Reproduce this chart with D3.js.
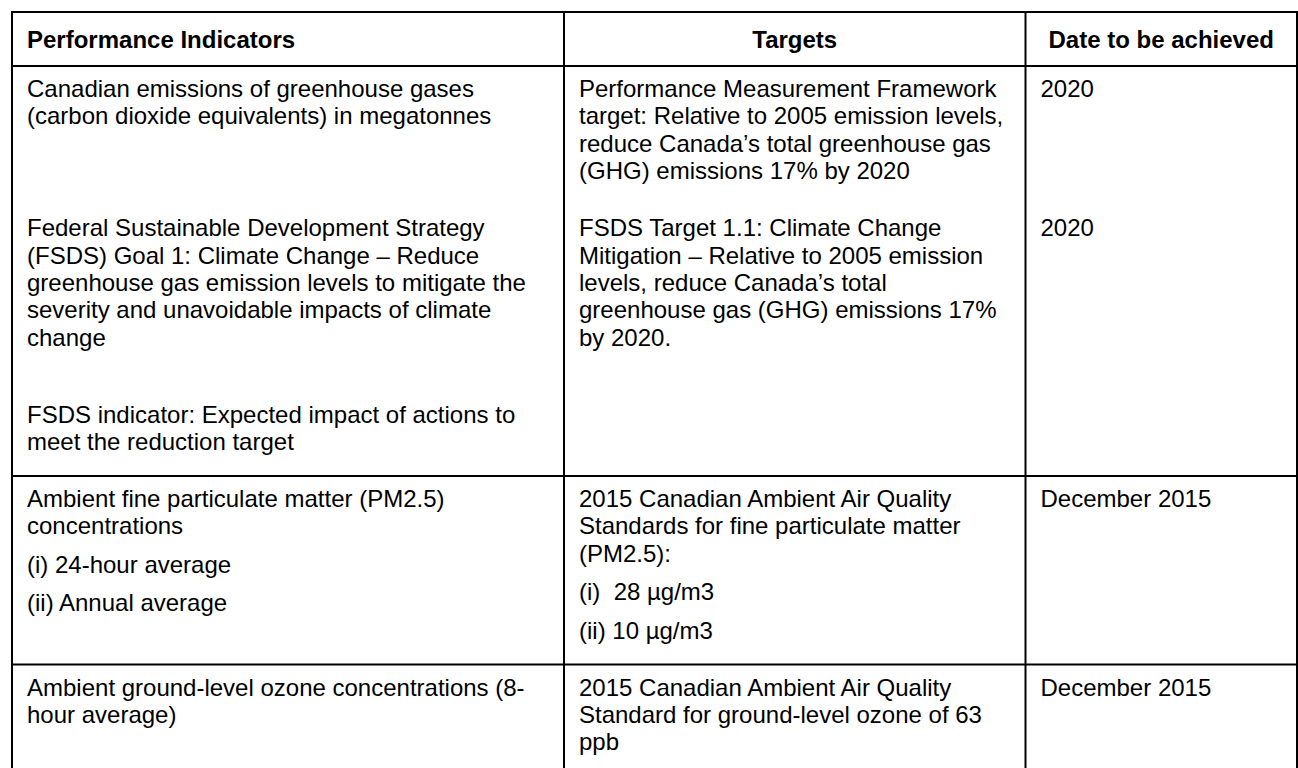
<!DOCTYPE html>
<html><head><meta charset="utf-8">
<script src="https://cdn.jsdelivr.net/npm/d3@7"></script>
<style>html,body{margin:0;padding:0;background:#fff;overflow:hidden}</style>
</head><body>
<svg id="chart" width="1298" height="768"></svg>
<script>
// ---- data ----
const columns = ["Performance Indicators", "Targets", "Date to be achieved"];
const headerAlign = ["start", "middle", "middle"];

// each row: list of paragraphs; each paragraph: list of lines
const indicators = [
  [["Canadian emissions of greenhouse gases", "(carbon dioxide equivalents) in megatonnes"]],
  [["Federal Sustainable Development Strategy", "(FSDS) Goal 1: Climate Change \u2013 Reduce", "greenhouse gas emission levels to mitigate the", "severity and unavoidable impacts of climate", "change"],
   [""],
   ["FSDS indicator: Expected impact of actions to", "meet the reduction target"]],
  [["Ambient fine particulate matter (PM2.5)", "concentrations"], ["(i) 24-hour average"], ["(ii) Annual average"]],
  [["Ambient ground-level ozone concentrations (8-", "hour average)"]]
];
const targets = [
  [["Performance Measurement Framework", "target: Relative to 2005 emission levels,", "reduce Canada\u2019s total greenhouse gas", "(GHG) emissions 17% by 2020"]],
  [["FSDS Target 1.1: Climate Change", "Mitigation \u2013 Relative to 2005 emission", "levels, reduce Canada\u2019s total", "greenhouse gas (GHG) emissions 17%", "by 2020."]],
  [["2015 Canadian Ambient Air Quality", "Standards for fine particulate matter", "(PM2.5):"], ["(i)  28 \u00b5g/m3"], ["(ii) 10 \u00b5g/m3"]],
  [["2015 Canadian Ambient Air Quality", "Standard for ground-level ozone of 63", "ppb"]]
];
const dates = [
  [["2020"]],
  [["2020"]],
  [["December 2015"]],
  [["December 2015"]]
];
const rowBorderBelow = [false, true, true, true];

// ---- layout ----
const W = 1298, H = 768;
const FONT = 24, LH = 27.4, BASE = 31, GAP = 11, PADB = 9, DESC = 6;
const colEdges = [12, 564, 1025.5, 1297];
const tableTop = 12, headerBottom = 66, headerBaseline = 48;
const textPad = 15;

const svg = d3.select("#chart");
const x = d3.scaleOrdinal().domain(columns).range(colEdges.slice(0, 3));

function cellHeight(paras) {
  const nLines = d3.sum(paras, p => p.length);
  return BASE + (nLines - 1) * LH + (paras.length - 1) * GAP + DESC + GAP + PADB;
}
const rows = indicators.map((d, i) => [d, targets[i], dates[i]]);
const rowHeights = rows.map(r => d3.max(r, cellHeight));
const rowTops = [];
let yAcc = headerBottom;
rowHeights.forEach(h => { rowTops.push(yAcc); yAcc += h; });

// header text
svg.append("g").selectAll("text").data(columns).join("text")
  .attr("x", (d, i) => headerAlign[i] === "start" ? x(d) + textPad : (colEdges[i] + colEdges[i + 1]) / 2)
  .attr("y", headerBaseline)
  .attr("text-anchor", (d, i) => headerAlign[i])
  .style("font-family", "'Liberation Sans', Arial, sans-serif")
  .style("font-weight", "bold")
  .style("font-size", FONT + "px")
  .attr("fill", "#000")
  .text(d => d);

// body text
const body = svg.append("g");
rows.forEach((r, ri) => {
  r.forEach((paras, ci) => {
    let y = rowTops[ri] + BASE;
    const lines = [];
    paras.forEach((p, pi) => {
      p.forEach((ln, li) => {
        lines.push({ text: ln, y });
        y += LH;
      });
      y += GAP;
    });
    body.append("g").selectAll("text").data(lines.filter(l => l.text !== "")).join("text")
      .attr("x", x(columns[ci]) + textPad)
      .attr("y", d => d.y)
      .attr("xml:space", "preserve")
      .style("white-space", "pre")
      .style("font-family", "'Liberation Sans', Arial, sans-serif")
      .style("font-size", FONT + "px")
      .attr("fill", "#000")
      .text(d => d.text);
  });
});

// grid lines
const grid = svg.append("g").attr("stroke", "#000").attr("stroke-width", 2);
const hLines = [tableTop, headerBottom].concat(rowTops.map((t, i) => t + rowHeights[i]).filter((_, i) => rowBorderBelow[i]));
grid.selectAll("line.h").data(hLines).join("line").attr("class", "h")
  .attr("x1", colEdges[0] - 1).attr("x2", W + 2)
  .attr("y1", d => d).attr("y2", d => d);
grid.selectAll("line.v").data(colEdges).join("line").attr("class", "v")
  .attr("x1", d => d).attr("x2", d => d)
  .attr("y1", tableTop - 1).attr("y2", H + 2);
</script>
</body></html>
